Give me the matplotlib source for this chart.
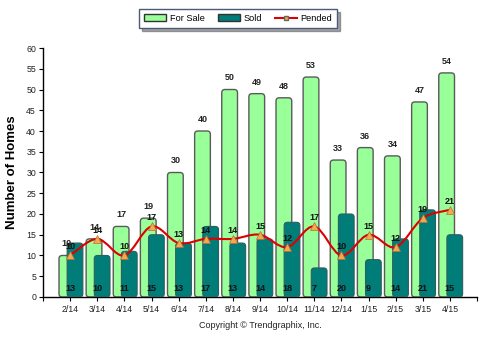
import matplotlib
matplotlib.use("Agg")
import matplotlib.pyplot as plt
import numpy as np
from matplotlib.path import Path
from matplotlib.patches import PathPatch, Patch, FancyBboxPatch
from matplotlib.lines import Line2D

plt.rcParams['font.family'] = ['Liberation Sans', 'DejaVu Sans']

# Data
months = ["2/14", "3/14", "4/14", "5/14", "6/14", "7/14", "8/14", "9/14",
          "10/14", "11/14", "12/14", "1/15", "2/15", "3/15", "4/15"]
for_sale = [10, 14, 17, 19, 30, 40, 50, 49, 48, 53, 33, 36, 34, 47, 54]
sold = [13, 10, 11, 15, 13, 17, 13, 14, 18, 7, 20, 9, 14, 21, 15]
pended = [10, 14, 10, 17, 13, 14, 14, 15, 12, 17, 10, 15, 12, 19, 21]

# Styles
sale_color = "#99FF99"
sold_color = "#007D78"
edge_color = "#5a5a5a"
line_color = "#DD0000"
marker_color = "#F5A94E"

fig = plt.figure(figsize=(4.81, 3.40), dpi=100)
ax = fig.add_axes([0.0894, 0.1265, 0.9023, 0.7323])

x = np.arange(len(months))
bar_w = 0.58


def rounded(bars, face, edge, lw, z):
    # swap plain bars for rounded-corner ones
    for b in bars:
        bx, by = b.get_xy()
        w, h = b.get_width(), b.get_height()
        b.remove()
        ax.add_patch(FancyBboxPatch((bx, by), w, h,
                                    boxstyle="round,pad=0,rounding_size=0.12",
                                    mutation_aspect=6.5, facecolor=face,
                                    edgecolor=edge, linewidth=lw, zorder=z))


bars1 = ax.bar(x - 0.12, for_sale, width=bar_w, color=sale_color)
rounded(bars1, sale_color, edge_color, 1.0, 2)
bars2 = ax.bar(x + 0.18, sold, width=bar_w, color=sold_color)
rounded(bars2, sold_color, "#2f5f5c", 0.8, 3)

# smooth pended line (Catmull-Rom as cubic bezier path)
pts = np.column_stack([x, pended]).astype(float)
verts = [tuple(pts[0])]
codes = [Path.MOVETO]
n = len(pts)
for i in range(n - 1):
    p0 = pts[i - 1] if i > 0 else pts[i]
    p1 = pts[i]
    p2 = pts[i + 1]
    p3 = pts[i + 2] if i + 2 < n else pts[i + 1]
    c1 = p1 + (p2 - p0) / 6.0
    c2 = p2 - (p3 - p1) / 6.0
    verts += [tuple(c1), tuple(c2), tuple(p2)]
    codes += [Path.CURVE4] * 3
ax.add_patch(PathPatch(Path(verts, codes), facecolor="none", edgecolor=line_color,
                       linewidth=1.5, zorder=4))
ax.plot(x, pended, linestyle="none", marker="^", markersize=6,
        markerfacecolor=marker_color, markeredgecolor="#b0703a",
        markeredgewidth=0.5, zorder=5)

# value labels
for i in range(n):
    ax.text(x[i] - 0.12, for_sale[i] + 1.7, str(for_sale[i]), ha="center",
            va="bottom", fontsize=6.5, fontweight="bold", color="#222222", zorder=6)
    ax.text(x[i], 0.9, str(sold[i]), ha="center", va="bottom", fontsize=6.5,
            fontweight="bold", color="#111111", zorder=6)
    ax.text(x[i], pended[i] + 1.0, str(pended[i]), ha="center", va="bottom",
            fontsize=6.5, fontweight="bold", color="#111111", zorder=6)

ax.set_xlim(-1, 15)
ax.set_ylim(0, 60)
ax.set_yticks(range(0, 61, 5))
ax.set_xticks(range(-1, 16))
ax.set_xticklabels([""] + months + [""])
ax.tick_params(axis="both", labelsize=6.3, length=3, color="black",
               labelcolor="#222222", pad=2)
ax.tick_params(axis="x", pad=3)
for side in ["top", "right"]:
    ax.spines[side].set_visible(False)
ax.spines["left"].set_linewidth(1.0)
ax.spines["bottom"].set_linewidth(1.0)

ax.set_ylabel("Number of Homes", fontsize=9.5, fontweight="bold", labelpad=6)

handles = [
    Patch(facecolor=sale_color, edgecolor="#333333", label="For Sale"),
    Patch(facecolor=sold_color, edgecolor="#333333", label="Sold"),
    Line2D([0], [0], color=line_color, linewidth=1.5, marker="s", markersize=2.5,
           markerfacecolor=marker_color, markeredgecolor="#666666", label="Pended"),
]
leg = fig.legend(handles=handles, loc="center", bbox_to_anchor=(0.495, 0.946),
                 ncol=3, fontsize=6.6, frameon=True, fancybox=False, shadow=True,
                 handlelength=2.4, handleheight=0.8, columnspacing=1.4,
                 handletextpad=0.4, borderpad=0.55)
leg.get_frame().set_edgecolor("#4a5a78")
leg.get_frame().set_linewidth(1.0)

fig.text(0.541, 0.043, "Copyright \u00a9 Trendgraphix, Inc.", ha="center",
         va="center", fontsize=6.5, color="#222222")

fig.savefig("out.png", dpi=100)
